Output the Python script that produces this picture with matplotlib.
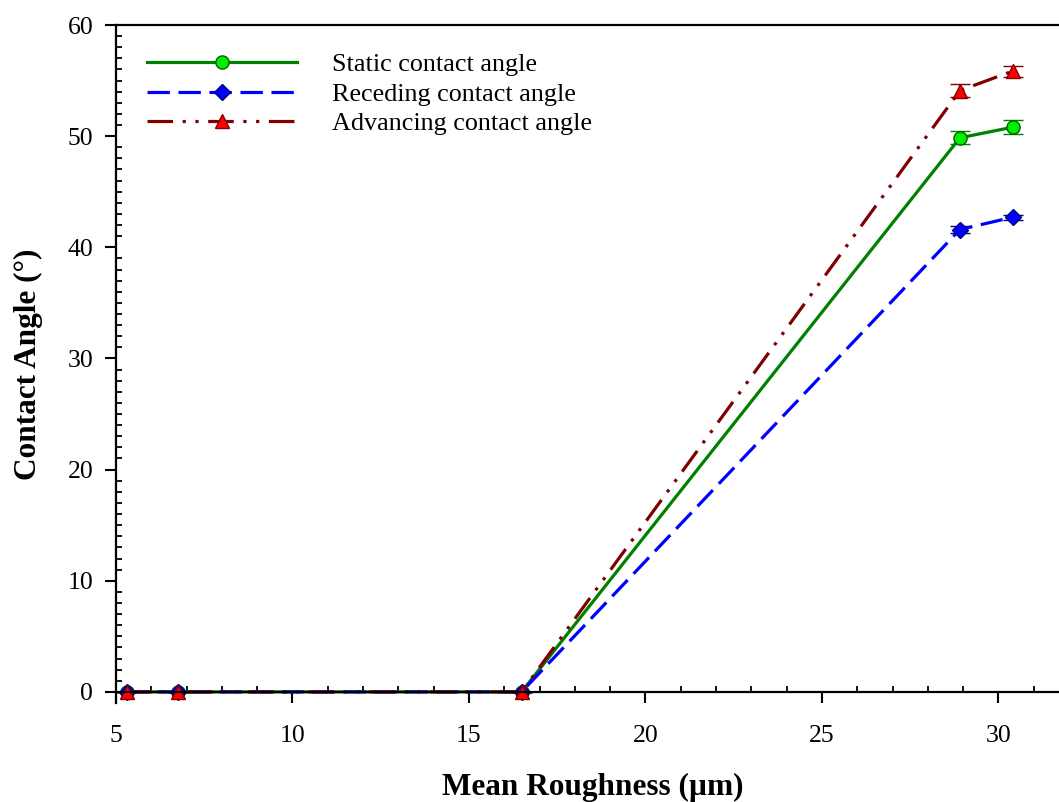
import matplotlib
matplotlib.use("Agg")
import matplotlib.pyplot as plt
from matplotlib.ticker import MultipleLocator, FixedLocator
from matplotlib.lines import Line2D

plt.rcParams['font.family'] = ['Liberation Serif', 'DejaVu Serif']

roughness = [5.30, 6.75, 16.49, 28.91, 30.40]
static = [0, 0, 0, 49.85, 50.80]
static_err = [0, 0, 0, 0.6, 0.65]
receding = [0, 0, 0, 41.6, 42.7]
receding_err = [0, 0, 0, 0.35, 0.25]
advancing = [0, 0, 0, 54.1, 55.85]
advancing_err = [0, 0, 0, 0.6, 0.5]
labels = ["Static contact angle", "Receding contact angle", "Advancing contact angle"]

W, H = 1059, 802
fig = plt.figure(figsize=(W / 100, H / 100), dpi=100)
ax = fig.add_axes([116 / W, 1 - 703 / H, (1069 - 116) / W, (703 - 25) / H])

lw = 2.3
dash_rec = (0, (7, 2.7))
dash_adv = (0, (8, 3, 1, 3, 1, 3))
common = dict(capsize=7, capthick=1.8, elinewidth=1.6, markeredgewidth=1.0)

ax.errorbar(roughness, static, yerr=static_err, color='#008000', ls='-', lw=lw,
            marker='o', ms=9.5, mfc='#00ee00', mec='#006400', ecolor='#008000', **common)
ax.errorbar(roughness, receding, yerr=receding_err, color='#0000ff', lw=lw,
            ls=dash_rec, marker='D', ms=8.5, mfc='#0000ff', mec='#000080',
            ecolor='#000080', **common)
ax.errorbar(roughness, advancing, yerr=advancing_err, color='#800000', lw=lw,
            ls=dash_adv, marker='^', ms=10, mfc='#ff0000', mec='#800000',
            ecolor='#800000', **common)

ax.set_xlim(5, 32)
ax.set_ylim(-1, 60)
ax.spines['bottom'].set_position(('data', 0))
ax.spines['right'].set_visible(False)
for s in ['left', 'bottom', 'top']:
    ax.spines[s].set_linewidth(1.6)

ax.xaxis.set_major_locator(MultipleLocator(5))
ax.xaxis.set_minor_locator(MultipleLocator(1))
ax.yaxis.set_major_locator(FixedLocator(list(range(0, 61, 10))))
ax.yaxis.set_minor_locator(FixedLocator(list(range(0, 61, 1))))
ax.tick_params(which='major', direction='out', length=7.8, width=1.5, labelsize=18.5)
ax.tick_params(which='minor', direction='in', length=4.5, width=1.3)
ax.tick_params(axis='y', which='major', pad=8.5)
ax.tick_params(axis='x', which='major', pad=16)
ax.tick_params(top=False, right=False, which='both')

ax.set_xlabel("Mean Roughness (µm)", fontsize=22.5, fontweight='bold')
ax.xaxis.set_label_coords(0.5, -0.103)
ax.set_ylabel("Contact Angle (°)", fontsize=22.5, fontweight='bold')
ax.yaxis.set_label_coords(-0.077, 0.5)

handles = [
    Line2D([], [], color='#008000', ls='-', lw=lw, marker='o', mfc='#00ee00', mec='#006400', ms=9.5),
    Line2D([], [], color='#0000ff', ls=dash_rec, lw=lw, marker='D', mfc='#0000ff', mec='#000080', ms=8.5),
    Line2D([], [], color='#800000', ls=dash_adv, lw=lw, marker='^', mfc='#ff0000', mec='#800000', ms=10),
]
fig.legend(handles, labels, loc='upper left', bbox_to_anchor=(147 / W, 1 - 53 / H),
           frameon=False, fontsize=18.8, handlelength=5.75, handletextpad=1.34,
           labelspacing=0.235, borderaxespad=0, borderpad=0)

fig.savefig("out.png", dpi=100)
